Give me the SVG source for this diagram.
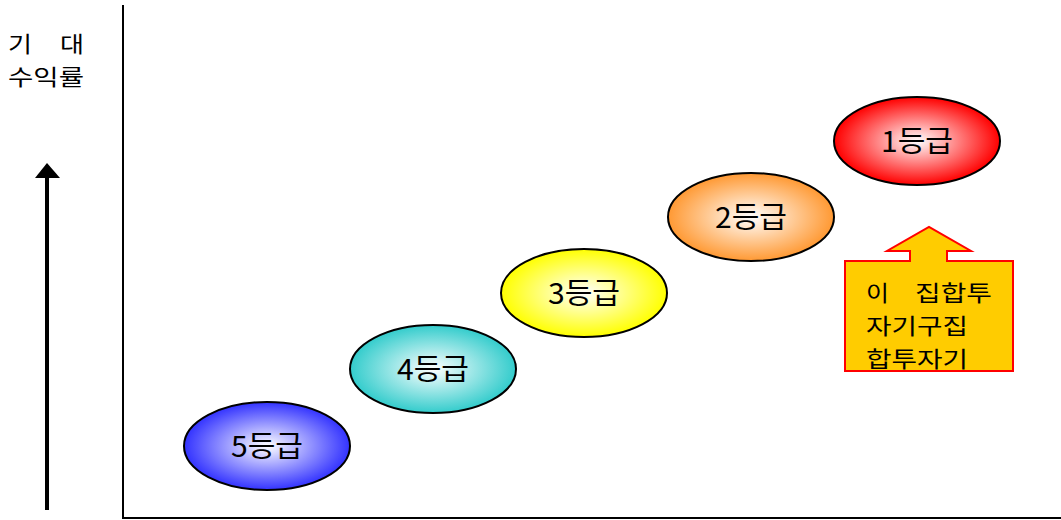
<svg xmlns="http://www.w3.org/2000/svg" width="1061" height="520" viewBox="0 0 1061 520">
<style>
.lbl{font-family:"Noto Sans CJK KR","Liberation Sans",sans-serif;font-size:29px;fill:#000;text-anchor:middle;dominant-baseline:central}
.t{font-family:"Noto Sans CJK KR","Liberation Sans",sans-serif;font-size:22px;fill:#000}
.el{stroke:#000;stroke-width:2}
</style>
<defs>
<radialGradient id="g1"><stop offset="0" stop-color="#fff"/><stop offset="1" stop-color="#ff0000"/></radialGradient>
<radialGradient id="g2"><stop offset="0" stop-color="#fff"/><stop offset="1" stop-color="#ff9933"/></radialGradient>
<radialGradient id="g3"><stop offset="0" stop-color="#fff"/><stop offset="1" stop-color="#ffff00"/></radialGradient>
<radialGradient id="g4"><stop offset="0" stop-color="#fff"/><stop offset="1" stop-color="#33cccc"/></radialGradient>
<radialGradient id="g5"><stop offset="0" stop-color="#fff"/><stop offset="1" stop-color="#3333ff"/></radialGradient>
</defs>
<rect width="1061" height="520" fill="#fff"/>
<g id="axes">
<polyline points="123,5 123,518 1061,518" fill="none" stroke="#000" stroke-width="2"/>
</g>
<g id="ylabel">
<text class="t" x="8" y="52" textLength="24" lengthAdjust="spacingAndGlyphs">기</text>
<text class="t" x="60" y="52" textLength="24" lengthAdjust="spacingAndGlyphs">대</text>
<text class="t" x="8" y="85" textLength="76" lengthAdjust="spacingAndGlyphs">수익률</text>
</g>
<g id="connectors">
<line x1="47" y1="510" x2="47" y2="176" stroke="#000" stroke-width="4"/>
<polygon points="47,163 35,178 60,178" fill="#000"/>
</g>
<g id="n5"><ellipse class="el" cx="267" cy="446" rx="83" ry="44" fill="url(#g5)"/><text class="lbl" x="267" y="444" textLength="72" lengthAdjust="spacingAndGlyphs">5등급</text></g>
<g id="n4"><ellipse class="el" cx="433" cy="369" rx="83" ry="44" fill="url(#g4)"/><text class="lbl" x="433" y="367" textLength="72" lengthAdjust="spacingAndGlyphs">4등급</text></g>
<g id="n3"><ellipse class="el" cx="584" cy="293" rx="83" ry="44" fill="url(#g3)"/><text class="lbl" x="584" y="291" textLength="72" lengthAdjust="spacingAndGlyphs">3등급</text></g>
<g id="n2"><ellipse class="el" cx="751" cy="217" rx="83" ry="44" fill="url(#g2)"/><text class="lbl" x="751" y="215" textLength="72" lengthAdjust="spacingAndGlyphs">2등급</text></g>
<g id="n1"><ellipse class="el" cx="917" cy="141" rx="83" ry="44" fill="url(#g1)"/><text class="lbl" x="917" y="139" textLength="72" lengthAdjust="spacingAndGlyphs">1등급</text></g>
<g id="callout">
<path d="M845,261 L910,261 L910,251 L887,251 L929,227 L971,251 L947,251 L947,261 L1013,261 L1013,371 L845,371 Z" fill="#ffcc00" stroke="#ff0000" stroke-width="2"/>
<text class="t" x="866" y="301" textLength="23" lengthAdjust="spacingAndGlyphs">이</text>
<text class="t" x="915" y="301" textLength="77" lengthAdjust="spacingAndGlyphs">집합투</text>
<text class="t" x="866" y="334" textLength="102" lengthAdjust="spacingAndGlyphs">자기구집</text>
<text class="t" x="866" y="367" textLength="102" lengthAdjust="spacingAndGlyphs">합투자기</text>
</g>
</svg>
